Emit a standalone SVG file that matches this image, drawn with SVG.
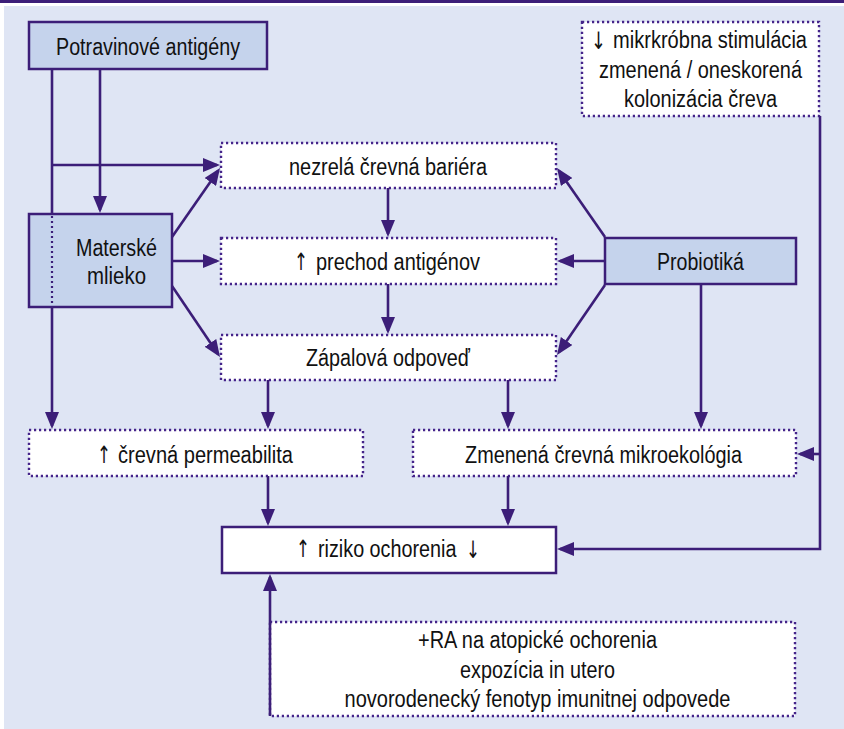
<svg xmlns="http://www.w3.org/2000/svg" width="844" height="729" viewBox="0 0 844 729">
<style>
.bg{fill:#dfe5f4}
.solid{fill:#c5d3ec;stroke:#3c1e78;stroke-width:2.5}
.white{fill:#ffffff;stroke:#3c1e78;stroke-width:2.5}
.dot{fill:#ffffff;stroke:#45248a;stroke-width:2.4;stroke-dasharray:2.2 2.8}
.t{font-family:"Liberation Sans",Arial,sans-serif;font-size:23px;fill:#111;text-anchor:middle}
.s{font-family:"Liberation Sans",Arial,sans-serif;font-size:23px;fill:#111;text-anchor:start}
.ar{font-family:"DejaVu Sans",sans-serif;font-size:24px;fill:#111;text-anchor:start}
.c{fill:none;stroke:#3c1e78;stroke-width:2.6}
.cd{fill:none;stroke:#3c1e78;stroke-width:2.2;stroke-dasharray:2 3}
</style>
<defs>
<marker id="ah" markerUnits="userSpaceOnUse" markerWidth="18" markerHeight="14" refX="14" refY="7" orient="auto">
<path d="M0,0 L17,7 L0,14 z" fill="#3c1e78"/>
</marker>
</defs>
<rect x="0" y="0" width="844" height="729" fill="#ffffff"/>
<rect x="0" y="0" width="844" height="3" fill="#3c1e78"/>
<rect class="bg" x="4" y="6" width="840" height="723"/>

<g id="node-potravinove">
<rect class="solid" x="29" y="22" width="238" height="47"/>
<text class="t" x="148" y="55" textLength="184" lengthAdjust="spacingAndGlyphs">Potravinové antigény</text>
</g>
<g id="node-mikrobna">
<rect class="dot" x="582" y="22" width="237" height="94"/>
<text class="ar" x="591" y="49" textLength="15" lengthAdjust="spacingAndGlyphs">↓</text>
<text class="s" x="613" y="48" textLength="194" lengthAdjust="spacingAndGlyphs">mikrkróbna stimulácia</text>
<text class="t" x="700.5" y="78" textLength="203" lengthAdjust="spacingAndGlyphs">zmenená / oneskorená</text>
<text class="t" x="700.5" y="107" textLength="153" lengthAdjust="spacingAndGlyphs">kolonizácia čreva</text>
</g>
<g id="node-bariera">
<rect class="dot" x="221" y="143" width="335" height="45"/>
<text class="t" x="388" y="175" textLength="198" lengthAdjust="spacingAndGlyphs">nezrelá črevná bariéra</text>
</g>
<g id="node-materske">
<rect class="solid" x="29" y="214" width="143" height="93"/>
<text class="t" x="116.5" y="256" textLength="81" lengthAdjust="spacingAndGlyphs">Materské</text>
<text class="t" x="116.5" y="284" textLength="59" lengthAdjust="spacingAndGlyphs">mlieko</text>
</g>
<g id="node-prechod">
<rect class="dot" x="221" y="238" width="335" height="46"/>
<text class="ar" x="294" y="270" textLength="14" lengthAdjust="spacingAndGlyphs">↑</text>
<text class="s" x="316" y="270" textLength="164" lengthAdjust="spacingAndGlyphs">prechod antigénov</text>
</g>
<g id="node-probiotika">
<rect class="solid" x="605" y="238" width="191" height="46"/>
<text class="t" x="700.5" y="270" textLength="87" lengthAdjust="spacingAndGlyphs">Probiotiká</text>
</g>
<g id="node-zapalova">
<rect class="dot" x="221" y="335" width="335" height="45"/>
<text class="t" x="388" y="366" textLength="164" lengthAdjust="spacingAndGlyphs">Zápalová odpoveď</text>
</g>
<g id="node-permeabilita">
<rect class="dot" x="29" y="430" width="334" height="46"/>
<text class="ar" x="97" y="463" textLength="14" lengthAdjust="spacingAndGlyphs">↑</text>
<text class="s" x="118" y="463" textLength="175" lengthAdjust="spacingAndGlyphs">črevná permeabilita</text>
</g>
<g id="node-mikroekologia">
<rect class="dot" x="413" y="430" width="383" height="46"/>
<text class="t" x="603.5" y="463" textLength="277" lengthAdjust="spacingAndGlyphs">Zmenená črevná mikroekológia</text>
</g>
<g id="node-riziko">
<rect class="white" x="222" y="527" width="334" height="46"/>
<text class="ar" x="296" y="557" textLength="14" lengthAdjust="spacingAndGlyphs">↑</text>
<text class="s" transform="translate(318,557) scale(0.86,1)" x="0" y="0">riziko ochorenia</text>
<text class="ar" x="466" y="558" textLength="14" lengthAdjust="spacingAndGlyphs">↓</text>
</g>
<g id="node-faktory">
<rect class="dot" x="270" y="622" width="525" height="94"/>
<text class="t" x="537.5" y="648" textLength="239" lengthAdjust="spacingAndGlyphs">+RA na atopické ochorenia</text>
<text class="t" x="537.5" y="678" textLength="155" lengthAdjust="spacingAndGlyphs">expozícia in utero</text>
<text class="t" x="537.5" y="707" textLength="386" lengthAdjust="spacingAndGlyphs">novorodenecký fenotyp imunitnej odpovede</text>
</g>

<g id="connectors">
<path class="c" d="M52,69 V214"/>
<path class="cd" d="M52,216 V306"/>
<path class="c" d="M52,307 V426" marker-end="url(#ah)"/>
<path class="c" d="M52,165 H217" marker-end="url(#ah)"/>
<path class="c" d="M100,69 V210" marker-end="url(#ah)"/>
<path class="c" d="M172,237 L218.3,170.5" marker-end="url(#ah)"/>
<path class="c" d="M172,261 H217" marker-end="url(#ah)"/>
<path class="c" d="M172,286 L218.3,354.5" marker-end="url(#ah)"/>
<path class="c" d="M388,188 V234" marker-end="url(#ah)"/>
<path class="c" d="M388,284 V331" marker-end="url(#ah)"/>
<path class="c" d="M268,380 V426" marker-end="url(#ah)"/>
<path class="c" d="M508,380 V426" marker-end="url(#ah)"/>
<path class="c" d="M605,237 L558.7,170.5" marker-end="url(#ah)"/>
<path class="c" d="M605,261 H560" marker-end="url(#ah)"/>
<path class="c" d="M605,285 L558.7,352.5" marker-end="url(#ah)"/>
<path class="c" d="M701,284 V426" marker-end="url(#ah)"/>
<path class="c" d="M820,116 V549 H560" marker-end="url(#ah)"/>
<path class="c" d="M820,454 H800" marker-end="url(#ah)"/>
<path class="c" d="M268,476 V523" marker-end="url(#ah)"/>
<path class="c" d="M508,476 V523" marker-end="url(#ah)"/>
<path class="c" d="M270,716 V577" marker-end="url(#ah)"/>
</g>
</svg>
